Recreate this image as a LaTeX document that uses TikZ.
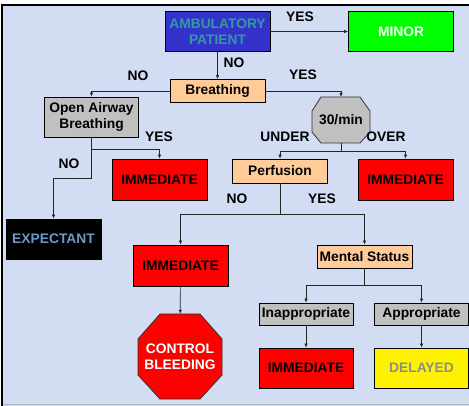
\documentclass[tikz,border=0pt]{standalone}
\usepackage{fontspec}
\setmainfont{Liberation Sans}
\usetikzlibrary{arrows.meta}
\definecolor{bg}{HTML}{D2DCF2}
\definecolor{ambfill}{HTML}{3333CC}
\definecolor{ambtext}{HTML}{339999}
\definecolor{peach}{HTML}{FFCC99}
\definecolor{grayfill}{HTML}{C0C0C0}
\definecolor{expt}{HTML}{6E98C8}
\definecolor{delt}{HTML}{8C8C8C}
\begin{document}
\begin{tikzpicture}[x=1pt,y=-1pt,
  font=\fontsize{13.8}{16.5}\selectfont\bfseries,
  bx/.style 2 args={draw=black, line width=0.9pt, inner sep=0pt, align=center,
    minimum width=#1pt, minimum height=#2pt},
  conn/.style={draw=black!85, line width=0.7pt, -{Latex[length=4pt,width=3.6pt]}},
  ln/.style={draw=black!85, line width=0.7pt},
  lbl/.style={inner sep=0pt, text=black}]
\useasboundingbox (0,0) rectangle (469,406);
\fill[white] (0,0) rectangle (469,406);
\fill[bg] (2,5) rectangle (469,406);
\draw[black, line width=2pt] (1,5) -- (469,5);
\draw[black, line width=2pt] (2,4) -- (2,406);
\draw[black!30, line width=0.6pt] (3,404) -- (469,404);

% octagons
\fill[grayfill] (321,97) -- (360,97) -- (370,111) -- (370,132) -- (360,143) -- (321,143) -- (312,132) -- (312,111) -- cycle;
\draw[black!80, line width=0.8pt] (321,97) -- (360,97) -- (370,111) -- (370,132) -- (360,143) -- (321,143) -- (312,132) -- (312,111) -- cycle;
\fill[red] (160,314) -- (200,314) -- (222,339) -- (222,375) -- (200,399) -- (160,399) -- (138,375) -- (138,339) -- cycle;
\draw[black!80, line width=0.8pt] (160,314) -- (200,314) -- (222,339) -- (222,375) -- (200,399) -- (160,399) -- (138,375) -- (138,339) -- cycle;

% nodes
\node[bx={105}{40}, fill=ambfill, text=ambtext] (amb) at (217.5,31.5) {AMBULATORY\\PATIENT};
\node[bx={105}{40}, fill=green, text=white] (minor) at (401,31.5) {MINOR};
\node[bx={95}{23}, fill=peach] (breath) at (217.5,91) {Breathing};
\node[bx={94}{40}, fill=grayfill] (oab) at (91.5,117) {Open Airway\\Breathing};
\node[inner sep=0pt, minimum width=58pt, minimum height=46pt] (rate) at (341,120) {30/min};
\node[bx={95}{41}, fill=red] (imm1) at (159.5,179.5) {IMMEDIATE};
\node[bx={95}{40}, fill=black, text=expt] (exp) at (53.5,239) {EXPECTANT};
\node[bx={95}{24}, fill=peach] (perf) at (280,171) {Perfusion};
\node[bx={95}{41}, fill=red] (imm2) at (405.5,179.5) {IMMEDIATE};
\node[bx={95}{41}, fill=red] (imm3) at (180.5,265.5) {IMMEDIATE};
\node[bx={95}{23}, fill=peach] (ment) at (364.5,256.5) {Mental Status};
\node[bx={94}{22}, fill=grayfill] (inap) at (306,314) {Inappropriate};
\node[bx={94}{22}, fill=grayfill] (appr) at (421.5,314) {Appropriate};
\node[bx={94}{40}, fill=red] (imm4) at (306,368) {IMMEDIATE};
\node[bx={94}{40}, fill=yellow, text=delt] (del) at (421.5,368) {DELAYED};
\node[inner sep=0pt, minimum width=84pt, minimum height=85pt, text=white, align=center] (cb) at (180,356.5) {CONTROL\\BLEEDING};

% junctions
\coordinate (j1) at (91.5,149);
\coordinate (j2) at (91.5,178);
\coordinate (j3) at (341,151);
\coordinate (j4) at (280,214);
\coordinate (j5) at (364.5,285);

% connectors
\draw[conn] (amb) -- (minor);
\draw[conn] (amb) -- (breath);
\draw[conn] (breath.west) -| (oab.north);
\draw[conn] (breath.east) -| (rate.north);
\draw[ln] (oab.south) -- (j2);
\draw[conn] (j1) -| (imm1.north);
\draw[conn] (j2) -| (exp.north);
\draw[ln] (rate.south) -- (j3);
\draw[conn] (j3) -| (perf.north);
\draw[conn] (j3) -| (imm2.north);
\draw[ln] (perf.south) -- (j4);
\draw[conn] (j4) -| (imm3.north);
\draw[conn] (j4) -| (ment.north);
\draw[ln] (ment.south) -- (j5);
\draw[conn] (j5) -| (inap.north);
\draw[conn] (j5) -| (appr.north);
\draw[conn] (inap) -- (imm4);
\draw[conn] (appr) -- (del);
\draw[conn] (imm3) -- (cb);

% labels
\node[lbl] (l1) at (300,17) {YES};
\node[lbl] (l2) at (234,63) {NO};
\node[lbl] (l3) at (138,76) {NO};
\node[lbl] (l4) at (303,75) {YES};
\node[lbl] (l5) at (159,137) {YES};
\node[lbl] (l6) at (69,164) {NO};
\node[lbl] (l7) at (285,137) {UNDER};
\node[lbl] (l8) at (386,137) {OVER};
\node[lbl] (l9) at (237,199) {NO};
\node[lbl] (l10) at (322,199) {YES};
\end{tikzpicture}
\end{document}
